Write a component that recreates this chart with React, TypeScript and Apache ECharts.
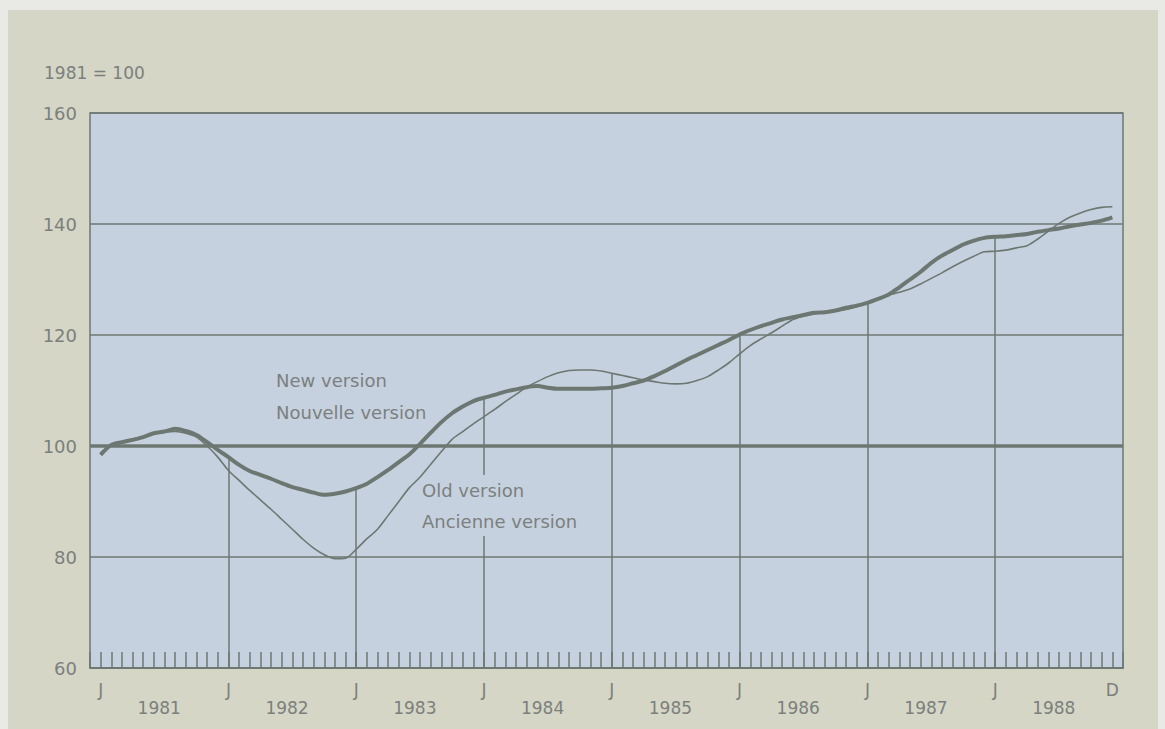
import React, { useEffect, useRef } from "react";
import * as echarts from "echarts";

// Month index 0 = Jan 1981 ... 95 = Dec 1988
const YEARS = [1981, 1982, 1983, 1984, 1985, 1986, 1987, 1988];
const Y_TICKS = [60, 80, 100, 120, 140, 160];
const BASE_VALUE = 100;

const NEW_VERSION = [
  98.4, 100.2, 100.7, 101.1, 101.6, 102.3, 102.6, 103.1, 102.7, 102.0, 100.7, 99.3,
  98.0, 96.6, 95.5, 94.8, 94.1, 93.3, 92.6, 92.1, 91.6, 91.2, 91.4, 91.8,
  92.4, 93.2, 94.4, 95.7, 97.1, 98.5, 100.4, 102.4, 104.3, 105.9, 107.1, 108.1,
  108.7, 109.2, 109.8, 110.2, 110.6, 110.8, 110.5, 110.3, 110.3, 110.3, 110.3, 110.4,
  110.5, 110.8, 111.3, 111.8, 112.6, 113.5, 114.5, 115.5, 116.4, 117.3, 118.2, 119.1,
  120.1, 120.9, 121.6, 122.2, 122.8, 123.2, 123.6, 124.0, 124.1, 124.4, 124.9, 125.3,
  125.8, 126.5, 127.3, 128.6, 130.0, 131.4, 133.0, 134.3, 135.3, 136.3, 137.0, 137.5,
  137.7, 137.8, 138.0, 138.2, 138.6, 138.9, 139.2, 139.6, 139.9, 140.2, 140.6, 141.2,
];

const OLD_VERSION = [
  98.8, 100.2, 100.8, 101.3, 101.7, 102.2, 102.5, 102.6, 102.3, 101.6, 100.0, 98.0,
  95.6, 93.8, 92.0, 90.3, 88.6, 86.8, 85.0, 83.2, 81.6, 80.4, 79.7, 79.8,
  81.4, 83.3, 85.0, 87.5, 90.0, 92.5, 94.4, 96.7, 99.0, 101.2, 102.6, 104.0,
  105.3, 106.6, 108.0, 109.3, 110.6, 111.6, 112.5, 113.2, 113.6, 113.7, 113.7, 113.5,
  113.1, 112.7, 112.3, 111.9, 111.6, 111.3, 111.2, 111.3, 111.8, 112.5, 113.7, 115.0,
  116.6, 118.1, 119.3, 120.4, 121.6, 122.8, 123.4, 123.8, 124.1, 124.3, 124.6, 125.1,
  125.8, 126.6, 127.2, 127.7, 128.3, 129.2, 130.2, 131.2, 132.3, 133.3, 134.2, 135.0,
  135.1, 135.3, 135.7, 136.1, 137.3, 138.7, 140.1, 141.2, 142.0, 142.6, 143.0, 143.1,
];

const LINE = "#6d7772";
const TEXT = "#7b807e";
const PLOT_BG = "#c6d1df";
const FONT = "DejaVu Sans";

export default function App() {
  const ref = useRef<HTMLDivElement>(null);

  useEffect(() => {
    document.body.style.margin = "0";
    if (!ref.current) return;
    const chart = echarts.init(ref.current, null, { renderer: "svg" });

    const nNew = NEW_VERSION.map((v, i) => [i, v]);
    const nOld = OLD_VERSION.map((v, i) => [i, v]);
    const janLines: any[] = [];
    for (let i = 12; i < NEW_VERSION.length; i += 12) {
      janLines.push([
        { coord: [i, Y_TICKS[0]] },
        { coord: [i, Math.max(NEW_VERSION[i], OLD_VERSION[i])] },
      ]);
    }

    const last = NEW_VERSION.length - 1;

    chart.setOption({
      animation: false,
      backgroundColor: "transparent",
      grid: {
        left: 82,
        top: 103,
        right: 35,
        bottom: 61,
        show: true,
        backgroundColor: PLOT_BG,
        borderColor: LINE,
        borderWidth: 1.5,
      },
      xAxis: [
        {
          type: "value",
          min: -1,
          max: 96,
          interval: 1,
          axisLine: { show: true, lineStyle: { color: LINE, width: 1.5 } },
          axisTick: { show: true, inside: true, length: 16, lineStyle: { color: LINE, width: 1.5 } },
          splitLine: { show: false },
          axisLabel: {
            color: TEXT,
            fontFamily: FONT,
            fontSize: 17,
            margin: 13,
            showMinLabel: true,
            showMaxLabel: true,
            formatter: (v: number) => {
              if (v === last) return "D";
              if (v >= 0 && v < last && v % 12 === 0) return "J";
              return "";
            },
          },
        },
        {
          type: "value",
          min: -1,
          max: 96,
          interval: 0.5,
          position: "bottom",
          axisLine: { show: false },
          axisTick: { show: false },
          splitLine: { show: false },
          axisLabel: {
            color: TEXT,
            fontFamily: FONT,
            fontSize: 17,
            margin: 31,
            formatter: (v: number) => {
              const k = (v - 5.5) / 12;
              const r = Math.round(k);
              if (Math.abs(k - r) < 1e-6 && r >= 0 && r < YEARS.length) return String(YEARS[r]);
              return "";
            },
          },
        },
      ],
      yAxis: {
        type: "value",
        min: Y_TICKS[0],
        max: Y_TICKS[Y_TICKS.length - 1],
        interval: 20,
        axisLine: { show: false },
        axisTick: { show: false },
        splitLine: { show: true, lineStyle: { color: LINE, width: 1.5 } },
        axisLabel: { color: TEXT, fontFamily: FONT, fontSize: 18, margin: 13 },
      },
      series: [
        {
          type: "line",
          data: [],
          z: 1,
          silent: true,
          markLine: {
            z: 1,
            silent: true,
            symbol: "none",
            label: { show: false },
            lineStyle: { color: LINE, width: 1.5, type: "solid" },
            data: [
              ...janLines,
              { yAxis: BASE_VALUE, lineStyle: { color: LINE, width: 3.5, type: "solid" } },
            ],
          },
        },
        {
          name: "Old version",
          type: "line",
          data: nOld,
          z: 3,
          smooth: 0.3,
          showSymbol: false,
          lineStyle: { color: LINE, width: 1.6 },
        },
        {
          name: "New version",
          type: "line",
          data: nNew,
          z: 4,
          smooth: 0.3,
          showSymbol: false,
          lineStyle: { color: LINE, width: 4 },
        },
      ],
      graphic: [
        {
          type: "text",
          x: 36,
          y: 54,
          style: { text: "1981 = 100", fill: TEXT, font: `17px "${FONT}"` },
        },
        {
          type: "text",
          x: 268,
          y: 361,
          z: 2,
          style: { text: "New version", fill: TEXT, font: `18px "${FONT}"` },
        },
        {
          type: "text",
          x: 268,
          y: 393,
          z: 2,
          style: { text: "Nouvelle version", fill: TEXT, font: `18px "${FONT}"` },
        },
        {
          type: "text",
          x: 411,
          y: 465,
          z: 2,
          style: {
            text: "Old version",
            fill: TEXT,
            font: `18px "${FONT}"`,
            backgroundColor: PLOT_BG,
            padding: [6, 3, 10, 3],
          },
        },
        {
          type: "text",
          x: 411,
          y: 496,
          z: 2,
          style: {
            text: "Ancienne version",
            fill: TEXT,
            font: `18px "${FONT}"`,
            backgroundColor: PLOT_BG,
            padding: [6, 3, 6, 3],
          },
        },
      ],
    });

    return () => chart.dispose();
  }, []);

  return (
    <div
      style={{
        position: "relative",
        width: 1165,
        height: 729,
        background: "#e9eae5",
        overflow: "hidden",
      }}
    >
      <div
        ref={ref}
        style={{
          position: "absolute",
          left: 8,
          top: 10,
          width: 1150,
          height: 719,
          background: "#d5d6c5",
        }}
      />
    </div>
  );
}
